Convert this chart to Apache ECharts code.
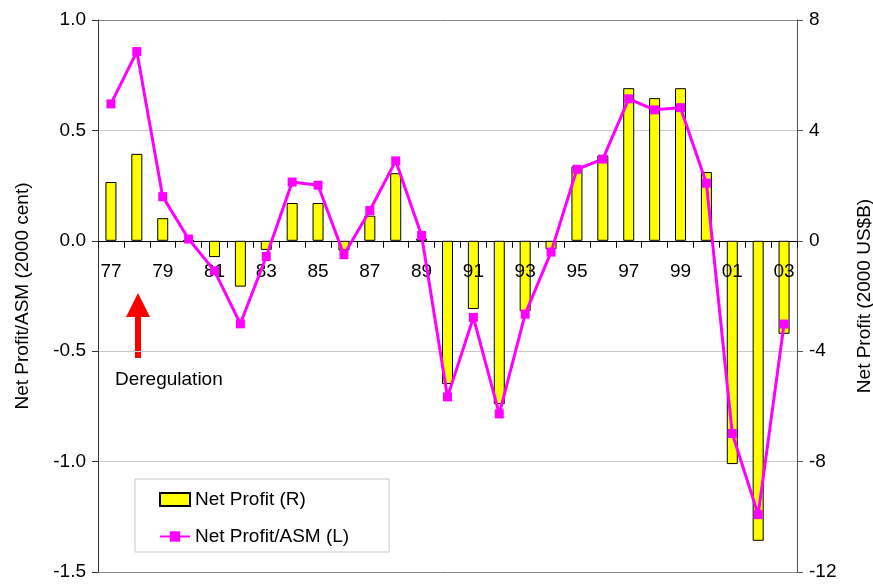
<!DOCTYPE html>
<html>
<head>
<meta charset="utf-8">
<script src="https://cdn.jsdelivr.net/npm/echarts@6/dist/echarts.min.js"></script>
<style>
  html, body { margin: 0; padding: 0; background: #fff; }
  #chart { width: 873px; height: 584px; }
</style>
</head>
<body>
<div id="chart"></div>
<script>
// years on the x axis
var years = ["77","78","79","80","81","82","83","84","85","86","87","88","89","90",
             "91","92","93","94","95","96","97","98","99","00","01","02","03"];
// Net Profit, 2000 US$B (right axis, bars)
var netProfit = [2.13, 3.15, 0.82, 0, -0.59, -1.66, -0.33, 1.37, 1.37, -0.35, 0.91, 2.45, 0.08, -5.19,
                 -2.47, -5.92, -2.55, -0.3, 2.69, 3.09, 5.53, 5.17, 5.53, 2.49, -8.09, -10.87, -3.37];
// Net Profit / ASM, 2000 cent (left axis, line)
var profitPerAsm = [0.62, 0.857, 0.20, 0.008, -0.136, -0.376, -0.071, 0.266, 0.252, -0.063, 0.137, 0.362, 0.024, -0.707,
                    -0.347, -0.784, -0.332, -0.051, 0.324, 0.37, 0.643, 0.593, 0.603, 0.261, -0.873, -1.24, -0.377];
// axis ranges
var leftAxis = { min: -1.5, max: 1.0, step: 0.5 };
var rightAxis = { min: -12, max: 8, step: 4 };

var FONT = "Liberation Sans";
var myChart = echarts.init(document.getElementById("chart"));

var option = {
    animation: false,
    textStyle: { fontFamily: FONT },
    grid: {
        left: 98, right: 76, top: 20, bottom: 12,
        outerBoundsMode: "none",
        show: false
    },
    legend: {
        orient: "vertical",
        left: 135,
        top: 479,
        width: 255,
        padding: [11, 40, 6, 24],
        itemGap: 18,
        itemWidth: 30,
        itemHeight: 13,
        borderColor: "#c8c8c8",
        borderWidth: 1,
        backgroundColor: "#fff",
        textStyle: { color: "#000", fontSize: 19, fontFamily: FONT },
        data: [{ name: "Net Profit (R)", icon: "rect" }, { name: "Net Profit/ASM (L)" }]
    },
    xAxis: [
        {
            // axis line and ticks, crossing at zero
            type: "category",
            data: years,
            boundaryGap: true,
            axisLine: { onZero: true, lineStyle: { color: "#000", width: 1 } },
            axisTick: { show: true, interval: 0, length: 7, lineStyle: { color: "#000" } },
            axisLabel: { show: false },
            splitLine: { show: false }
        },
        {
            // year labels, placed just under the zero line
            type: "category",
            data: years,
            boundaryGap: true,
            position: "bottom",
            z: 3,
            axisLine: { show: false, onZero: false },
            axisTick: { show: false },
            axisLabel: { show: true, interval: 1, margin: -310, color: "#000", fontSize: 19, fontFamily: FONT },
            splitLine: { show: false }
        }
    ],
    yAxis: [
        {
            type: "value",
            min: leftAxis.min, max: leftAxis.max, interval: leftAxis.step,
            name: "Net Profit/ASM (2000 cent)",
            nameLocation: "middle",
            nameRotate: 90,
            nameGap: 66,
            nameTextStyle: { color: "#000", fontSize: 19, fontFamily: FONT },
            axisLine: { show: true, lineStyle: { color: "#333" } },
            axisTick: { show: true, length: 6, lineStyle: { color: "#333" } },
            axisLabel: {
                color: "#000", fontSize: 19, margin: 12, fontFamily: FONT,
                formatter: function (v) { return v.toFixed(1); }
            },
            splitLine: {
                show: true,
                lineStyle: { color: ["#888", "#c8c8c8", "#c8c8c8", "#c8c8c8", "#c8c8c8", "#888"] }
            }
        },
        {
            type: "value",
            position: "right",
            min: rightAxis.min, max: rightAxis.max, interval: rightAxis.step,
            name: "Net Profit (2000 US$B)",
            nameLocation: "middle",
            nameRotate: 90,
            nameGap: 58,
            nameTextStyle: { color: "#000", fontSize: 19, fontFamily: FONT },
            axisLine: { show: true, lineStyle: { color: "#555" } },
            axisTick: { show: true, length: 6, lineStyle: { color: "#555" } },
            axisLabel: { color: "#000", fontSize: 19, margin: 12, fontFamily: FONT },
            splitLine: { show: false }
        }
    ],
    series: [
        {
            name: "Net Profit (R)",
            type: "bar",
            yAxisIndex: 1,
            barWidth: 11,
            data: netProfit,
            itemStyle: { color: "#ffff00", borderColor: "#000", borderWidth: 1 },
            z: 2
        },
        {
            name: "Net Profit/ASM (L)",
            type: "line",
            yAxisIndex: 0,
            data: profitPerAsm,
            symbol: "rect",
            symbolSize: 9,
            lineStyle: { color: "#ff00ff", width: 3 },
            itemStyle: { color: "#ff00ff" },
            z: 4
        }
    ],
    graphic: [
        {
            type: "polygon",
            shape: { points: [[138, 293], [150, 317], [141, 317], [141, 358], [135, 358], [135, 317], [126, 317]] },
            style: { fill: "#ff0000" }
        },
        {
            type: "text",
            left: 115,
            top: 370,
            style: { text: "Deregulation", fill: "#000", fontSize: 19, fontFamily: FONT }
        }
    ]
};

myChart.setOption(option);
window.addEventListener("resize", function () {
    myChart.resize();
});
</script>
</body>
</html>
